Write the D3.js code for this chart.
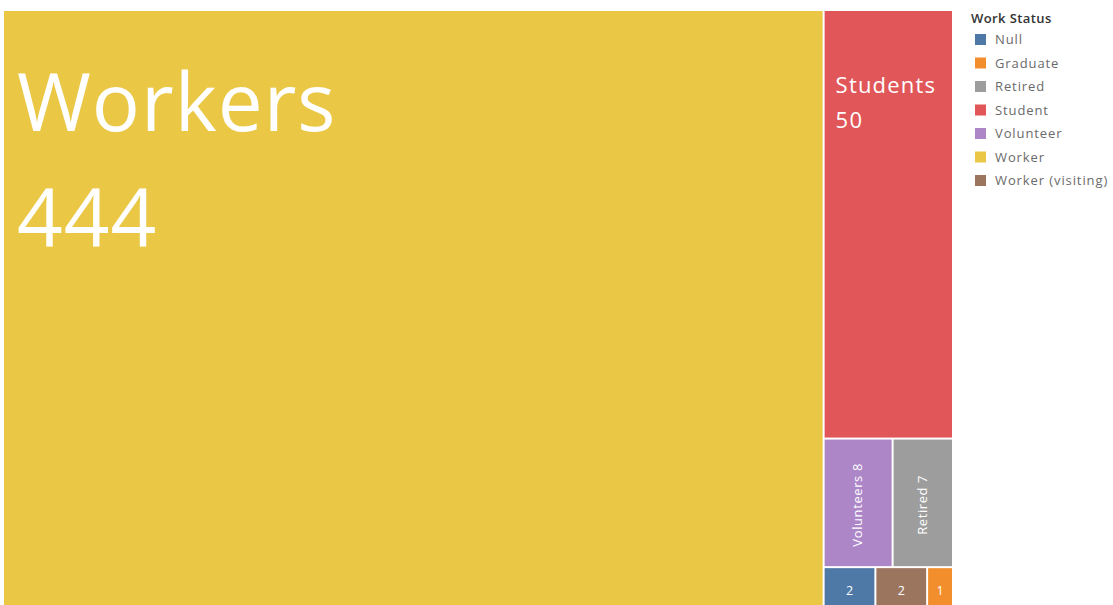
<!DOCTYPE html>
<html>
<head>
<meta charset="utf-8">
<script src="https://cdn.jsdelivr.net/npm/d3@7"></script>
<style>
  body { margin: 0; background: #fff; }
  svg { display: block; }
</style>
</head>
<body>
<div id="chart"></div>
<script>
// data
const statuses = ["Worker", "Student", "Volunteer", "Retired", "Null", "Worker (visiting)", "Graduate"]
const counts = [444, 50, 8, 7, 2, 2, 1]
const labels = ["Workers", "Students", "Volunteers", "Retired", "", "", ""]
const legendOrder = ["Null", "Graduate", "Retired", "Student", "Volunteer", "Worker", "Worker (visiting)"]
const palette = ["#4e79a7", "#f28e2b", "#9d9d9d", "#e15759", "#ad86c8", "#eac846", "#9c755f"]

const W = 1113, H = 605
const svg = d3.select('#chart').append('svg')
  .attr('width', W)
  .attr('height', H)

const color = d3.scaleOrdinal().domain(legendOrder).range(palette)

const rows = statuses.map((s, i) => ({ name: s, value: counts[i], label: labels[i] }))
const root = d3.hierarchy({ children: rows })
  .sum(d => d.value || 0)
  .sort((a, b) => b.value - a.value)

d3.treemap()
  .tile(d3.treemapSquarify)
  .size([948, 598])
  .paddingInner(2)(root)

const cells = svg.append('g')
  .attr('transform', 'translate(4,11)')
  .selectAll('g')
  .data(root.leaves())
  .join('g')
  .attr('transform', d => `translate(${d.x0},${d.y0})`)

cells.append('rect')
  .attr('width', d => d.x1 - d.x0)
  .attr('height', d => d.y1 - d.y0)
  .attr('fill', d => color(d.data.name))

const font = "'Open Sans', sans-serif"

// big labels (two lines, top-left)
cells.filter(d => d.data.name == "Worker").each(function (d) {
  const g = d3.select(this)
  g.append('text').attr('x', 13).attr('y', 120).text(d.data.label)
  g.append('text').attr('x', 13).attr('y', 235).text(d.value)
  g.selectAll('text').attr('fill', '#fff').attr('font-family', font).attr('font-size', 80).attr('letter-spacing', 1)
})
cells.filter(d => d.data.name == "Student").each(function (d) {
  const g = d3.select(this)
  g.append('text').attr('x', 11).attr('y', 82).text(d.data.label)
  g.append('text').attr('x', 11).attr('y', 117).text(d.value)
  g.selectAll('text').attr('fill', '#fff').attr('font-family', font).attr('font-size', 22).attr('letter-spacing', 1.2)
})
// rotated labels
cells.filter(d => d.data.name == "Volunteer" || d.data.name == "Retired")
  .append('text')
  .attr('transform', d => `translate(${(d.x1 - d.x0) / 2 + 4},${(d.y1 - d.y0) / 2 + 2}) rotate(-90)`)
  .attr('text-anchor', 'middle')
  .attr('fill', '#fff')
  .attr('font-family', font)
  .attr('font-size', 13)
  .attr('letter-spacing', 0.6)
  .text(d => d.data.label + " " + d.value)
// tiny cells: just the number
cells.filter(d => d.data.label == "")
  .append('text')
  .attr('x', d => (d.x1 - d.x0) / 2)
  .attr('y', d => (d.y1 - d.y0) / 2 + 6)
  .attr('text-anchor', 'middle')
  .attr('fill', '#fff')
  .attr('font-family', font)
  .attr('font-size', 12.5)
  .text(d => d.value)

// legend
const legend = svg.append('g').attr('transform', 'translate(971,0)')
legend.append('text')
  .attr('x', 0).attr('y', 23)
  .attr('font-family', font)
  .attr('font-size', 13)
  .attr('font-weight', 600)
  .attr('letter-spacing', 0.4)
  .attr('fill', '#333')
  .text('Work Status')

const item = legend.selectAll('g.item')
  .data(legendOrder)
  .join('g')
  .attr('class', 'item')
  .attr('transform', (d, i) => `translate(4,${34 + i * 23.5})`)
item.append('rect')
  .attr('width', 11).attr('height', 11)
  .attr('fill', d => color(d))
item.append('text')
  .attr('x', 20).attr('y', 10)
  .attr('font-family', font)
  .attr('font-size', 13)
  .attr('letter-spacing', 0.9)
  .attr('fill', '#6a6a6a')
  .text(d => d)
</script>
</body>
</html>
